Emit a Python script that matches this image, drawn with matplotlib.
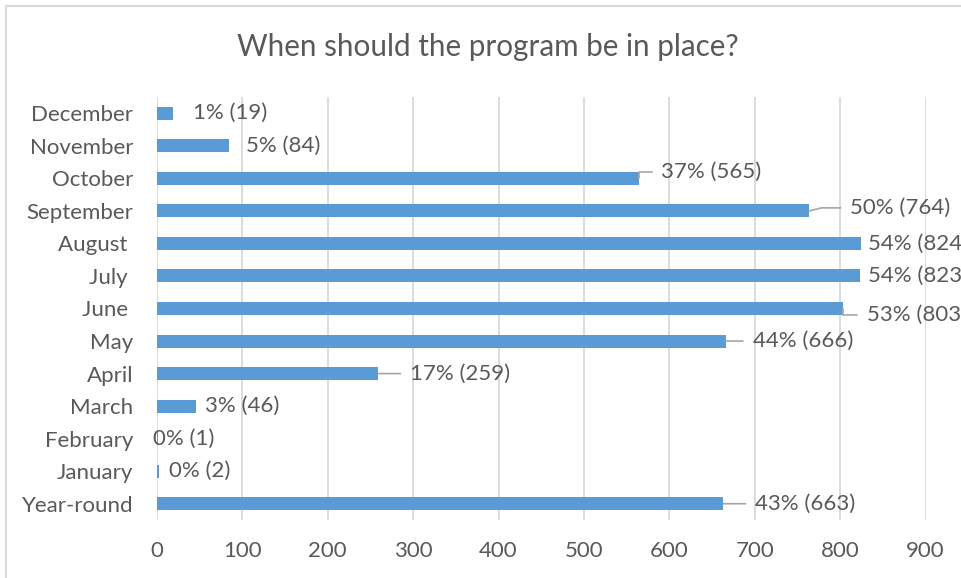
import matplotlib
matplotlib.use('Agg')
import matplotlib.pyplot as plt
from matplotlib.lines import Line2D

plt.rcParams['font.family'] = ['Lato', 'DejaVu Sans']

# data, bottom to top
categories = ['Year-round', 'January', 'February', 'March', 'April', 'May', 'June ',
              'July ', 'August ', 'September', 'October', 'November', 'December']
counts = [663, 2, 1, 46, 259, 666, 803, 823, 824, 764, 565, 84, 19]
percents = [43, 0, 0, 3, 17, 44, 53, 54, 54, 50, 37, 5, 1]
x_ticks = [0, 100, 200, 300, 400, 500, 600, 700, 800, 900]

# label placement (pixels from bar end) and leader line style
label_dx = [32, 10, -5, 9, 32, 27, 24, 8, 7, 41, 22, 17, 20]
label_dy = [0, 0, 0, 0, 0, 0, -6, 0, 0, 3, 6, 0, 0]
leaders = ['arc3', None, None, None, 'arc3', 'arc3', 'angle,angleA=0,angleB=90,rad=0',
           None, None, 'angle,angleA=0,angleB=14,rad=0', 'angle,angleA=0,angleB=90,rad=0',
           None, None]

BAR = '#5B9BD5'
TXT = '#595959'
GRID = '#D9D9D9'

fig = plt.figure(figsize=(9.61, 5.78), dpi=100)
ax = fig.add_axes([157 / 961, 58 / 578, 768.5 / 961, 423 / 578])

ypos = list(range(len(categories)))
ax.barh(ypos, counts, height=0.4, color=BAR, zorder=3)

ax.set_xlim(0, 900)
ax.set_ylim(-0.5, len(categories) - 0.5)
ax.set_xticks(x_ticks)
ax.set_xticklabels([str(t) for t in x_ticks])
ax.set_yticks(ypos)
ax.set_yticklabels(categories)
ax.tick_params(axis='both', length=0, labelsize=16, colors=TXT)
ax.tick_params(axis='x', pad=15)
ax.tick_params(axis='y', pad=17)
ax.grid(axis='x', color=GRID, linewidth=1.3, zorder=0)
for s in ax.spines.values():
    s.set_visible(False)

for i, (c, p) in enumerate(zip(counts, percents)):
    kw = {}
    if leaders[i]:
        kw['arrowprops'] = dict(arrowstyle='-', color='#A5A5A5', lw=1.2,
                                connectionstyle=leaders[i], relpos=(0, 0.5),
                                shrinkA=5, shrinkB=0)
    ax.annotate('%d%% (%d)' % (p, c), xy=(c, i), xytext=(label_dx[i], label_dy[i]),
                textcoords='offset pixels', ha='left', va='center',
                fontsize=16, color=TXT, annotation_clip=False, zorder=4, **kw)

fig.text(0.508, 0.919, 'When should the program be in place?', ha='center', va='center',
         fontsize=21.3, color=TXT)

# chart frame (cropped at right and bottom)
fig.add_artist(Line2D([6 / 961, 6 / 961], [0, 1 - 6 / 578], color=GRID, lw=1.5,
                      transform=fig.transFigure))
fig.add_artist(Line2D([6 / 961, 1], [1 - 6 / 578, 1 - 6 / 578], color=GRID, lw=1.5,
                      transform=fig.transFigure))

fig.savefig('out.png', dpi=100)
